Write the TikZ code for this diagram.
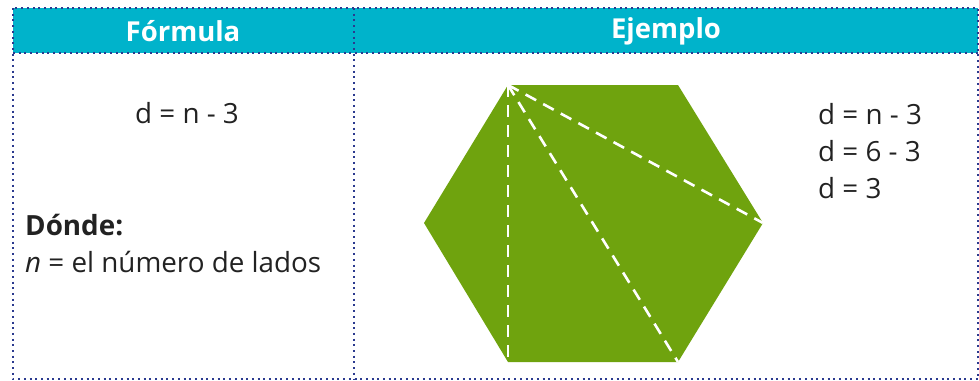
\documentclass[tikz,border=0pt]{standalone}
\usepackage{fontspec}
\setmainfont{Open Sans}
\definecolor{hdr}{HTML}{00B3CB}
\definecolor{hexg}{HTML}{6FA30E}
\definecolor{dotc}{HTML}{2B3A8F}
\definecolor{txt}{HTML}{222222}
\begin{document}
\begin{tikzpicture}[x=1pt,y=-1pt,
  dotline/.style={draw=dotc,line width=2pt,dash pattern=on 2pt off 3.7pt},
  hdrtext/.style={text=white,font=\fontsize{27.5}{32}\selectfont\bfseries},
  body/.style={text=txt,font=\fontsize{27.8}{32}\selectfont,inner sep=0pt},
  diag/.style={draw=white,line width=2.6pt,dash pattern=on 12pt off 8pt}]
\useasboundingbox (0,0) rectangle (979,380);
% header
\fill[hdr] (13,8) rectangle (978,53);
\node[hdrtext] (h1) at (183,31) {Fórmula};
\node[hdrtext] (h2) at (666,31) {Ejemplo};
% borders
\draw[dotline] (13,8) rectangle (978,379);
\draw[dotline] (13,53) -- (978,53);
\draw[dotline] (354,8) -- (354,379);
% left column
\node[body,anchor=base] (f) at (187,123) {d = n - 3};
\node[body,anchor=base west] (dd) at (25,235) {\bfseries Dónde:};
\node[body,anchor=base west] (nn) at (25,272) {\itshape n\upshape{} = el número de lados};
% hexagon
\coordinate (A) at (508,85);
\coordinate (B) at (678,85);
\coordinate (C) at (763,223);
\coordinate (D) at (678,362);
\coordinate (E) at (508,362);
\coordinate (F) at (424,223);
\fill[hexg] (A) -- (B) -- (C) -- (D) -- (E) -- (F) -- cycle;
\draw[diag] (A) -- (E);
\draw[diag] (A) -- (D);
\draw[diag] (A) -- (C);
% right text
\node[body,anchor=base west] (r1) at (818,124) {d = n - 3};
\node[body,anchor=base west] (r2) at (818,161) {d = 6 - 3};
\node[body,anchor=base west] (r3) at (818,198) {d = 3};
\end{tikzpicture}
\end{document}
